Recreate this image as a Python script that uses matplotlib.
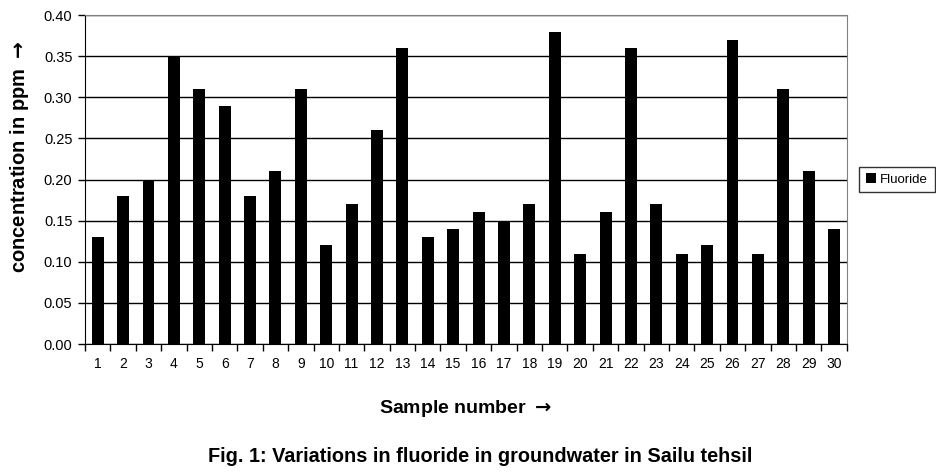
import matplotlib
matplotlib.use("Agg")
import matplotlib.pyplot as plt
import numpy as np

plt.rcParams['font.family'] = ['Liberation Sans', 'DejaVu Sans']
plt.rcParams['mathtext.fontset'] = 'dejavusans'

samples = [str(i) for i in range(1, 31)]
fluoride = [0.13, 0.18, 0.20, 0.35, 0.31, 0.29, 0.18, 0.21, 0.31, 0.12,
            0.17, 0.26, 0.36, 0.13, 0.14, 0.16, 0.15, 0.17, 0.38, 0.11,
            0.16, 0.36, 0.17, 0.11, 0.12, 0.37, 0.11, 0.31, 0.21, 0.14]
yticks = [0.00, 0.05, 0.10, 0.15, 0.20, 0.25, 0.30, 0.35, 0.40]

fig = plt.figure(figsize=(9.37, 4.76), dpi=100)
ax = fig.add_axes([0.0907, 0.2773, 0.813, 0.691])

x = np.arange(len(samples))
ax.bar(x, fluoride, width=0.47, color='black', label='Fluoride', zorder=3)

ax.set_xlim(-0.5, len(samples) - 0.5)
ax.set_ylim(0, 0.40)
ax.set_yticks(yticks)
ax.set_yticklabels([f'{v:.2f}' for v in yticks], fontsize=10.5)
ax.yaxis.grid(True, color='black', linewidth=1, zorder=0)
ax.set_axisbelow(True)

ax.set_xticks(x)
ax.set_xticklabels(samples, fontsize=10)
ax.tick_params(axis='x', which='major', length=0, pad=9)
ax.set_xticks(np.arange(-0.5, len(samples)), minor=True)
ax.tick_params(axis='x', which='minor', length=5, width=1, direction='out')
ax.tick_params(axis='y', length=5, width=1, direction='out', pad=4)

for side in ['top', 'right']:
    ax.spines[side].set_color('#808080')
for side in ['left', 'bottom']:
    ax.spines[side].set_color('black')

ax.set_xlabel(r'Sample number $\mathbf{\rightarrow}$', fontsize=14, fontweight='bold', labelpad=20)
ax.set_ylabel(r'concentration in ppm $\mathbf{\rightarrow}$', fontsize=14.5, fontweight='bold')
ax.yaxis.set_label_coords(-0.071, 0.568)

leg = ax.legend(loc='center left', bbox_to_anchor=(1.016, 0.5), frameon=True,
                fancybox=False, fontsize=9.5, handlelength=0.8, handleheight=0.8,
                handletextpad=0.3, borderpad=0.5, borderaxespad=0)
leg.get_frame().set_edgecolor('black')
leg.get_frame().set_linewidth(1)

fig.text(0.513, 0.04, 'Fig. 1: Variations in fluoride in groundwater in Sailu tehsil',
         ha='center', va='center', fontsize=14.3, fontweight='bold')

plt.savefig('out.png', dpi=100)
